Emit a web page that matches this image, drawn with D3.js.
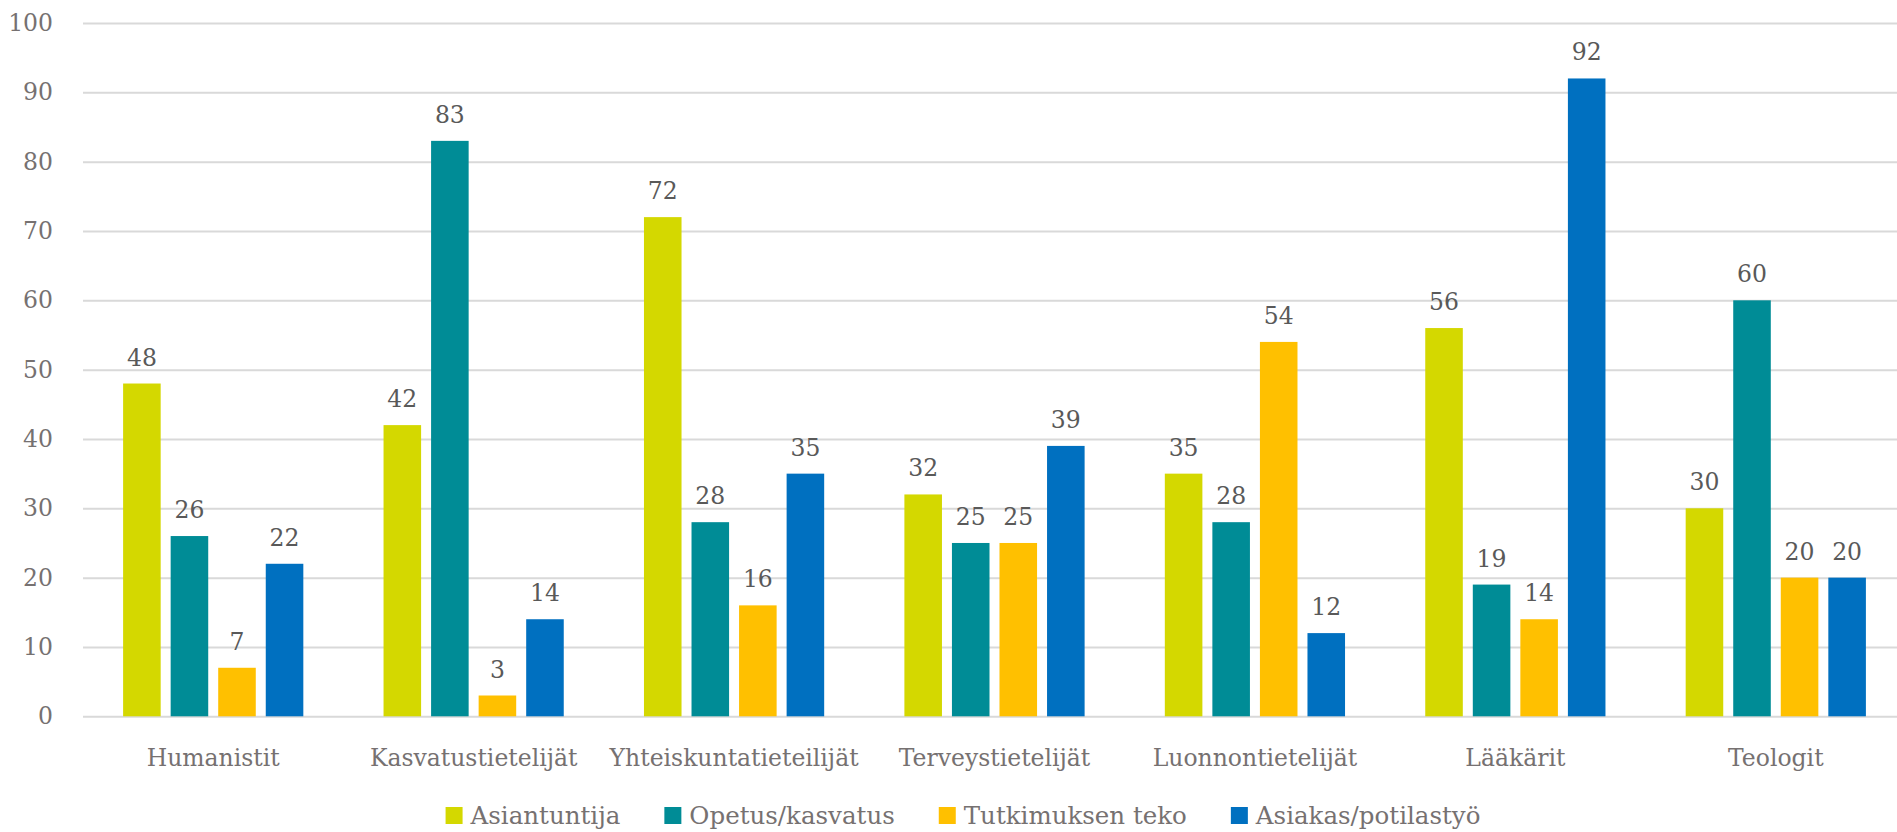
<!DOCTYPE html>
<html>
<head>
<meta charset="utf-8">
<script src="https://cdn.jsdelivr.net/npm/d3@7"></script>
<style>
  body { margin: 0; background: #fff; }
  svg { display: block; }
  .lbl { font-family: "DejaVu Serif", serif; }
</style>
</head>
<body>
<div id="chart"></div>
<script>
// chart data
let categories = ["Humanistit", "Kasvatustietelijät", "Yhteiskuntatieteilijät", "Terveystietelijät",
    "Luonnontietelijät", "Lääkärit", "Teologit"];
let seriesNames = ["Asiantuntija", "Opetus/kasvatus", "Tutkimuksen teko", "Asiakas/potilastyö"];
let asiantuntija = [48, 42, 72, 32, 35, 56, 30];
let opetus = [26, 83, 28, 25, 28, 19, 60];
let tutkimus = [7, 3, 16, 25, 54, 14, 20];
let asiakas = [22, 14, 35, 39, 12, 92, 20];
let yTicks = [0, 10, 20, 30, 40, 50, 60, 70, 80, 90, 100];
let colors = ["#D4D800", "#008C96", "#FFC000", "#0070C0"];

let width = 1897, height = 832;
let plotLeft = 83, plotRight = 1906, plotTop = 23, plotBottom = 716.3;
let fontSize = 23.5;

let svg = d3.select("#chart")
    .append("svg")
    .attr("width", width)
    .attr("height", height);

let allSeries = [asiantuntija, opetus, tutkimus, asiakas];

let x0 = d3.scaleBand()
    .domain(categories)
    .range([plotLeft, plotRight])
    .paddingInner(0.308)
    .paddingOuter(0.154);

let x1 = d3.scaleBand()
    .domain(seriesNames)
    .range([0, x0.bandwidth()])
    .paddingInner(0.21);

let y = d3.scaleLinear().domain([0, 100]).range([plotBottom, plotTop]);

// gridlines + y labels
let yAxis = svg.append("g")
    .attr("transform", "translate(" + plotLeft + ",0)")
    .call(d3.axisLeft(y).tickValues(yTicks).tickSize(-(width - plotLeft)).tickPadding(30));
yAxis.select(".domain").remove();
yAxis.selectAll(".tick line").attr("stroke", "#D9D9D9").attr("stroke-width", 2);
yAxis.selectAll(".tick text")
    .attr("class", "lbl")
    .attr("font-size", fontSize)
    .attr("fill", "#767171");

// x labels
let xAxis = svg.append("g")
    .attr("transform", "translate(0," + plotBottom + ")")
    .call(d3.axisBottom(x0).tickSize(0));
xAxis.select(".domain").remove();
xAxis.selectAll(".tick text")
    .attr("class", "lbl")
    .attr("font-size", fontSize)
    .attr("fill", "#767171")
    .attr("y", 50)
    .attr("dy", 0);

// bars
let groups = svg.selectAll(".grp")
    .data(categories)
    .enter()
    .append("g")
    .attr("class", "grp")
    .attr("transform", function(d) { return "translate(" + x0(d) + ",0)"; });

groups.each(function(cat, ci) {
    let g = d3.select(this);
    let rows = seriesNames.map(function(s, si) { return {name: s, value: allSeries[si][ci], color: colors[si]}; });
    g.selectAll("rect")
        .data(rows)
        .enter()
        .append("rect")
        .attr("x", function(d) { return x1(d.name); })
        .attr("y", function(d) { return y(d.value); })
        .attr("width", x1.bandwidth())
        .attr("height", function(d) { return y(0) - y(d.value); })
        .attr("fill", function(d) { return d.color; });
    g.selectAll("text")
        .data(rows)
        .enter()
        .append("text")
        .attr("class", "lbl")
        .attr("x", function(d) { return x1(d.name) + x1.bandwidth() / 2; })
        .attr("y", function(d) { return y(d.value) - 18; })
        .attr("text-anchor", "middle")
        .attr("font-size", fontSize)
        .attr("fill", "#595959")
        .text(function(d) { return d.value; });
});

// legend
let legend = svg.append("g");
let items = legend.selectAll("g")
    .data(seriesNames)
    .enter()
    .append("g");
items.append("rect")
    .attr("y", 807)
    .attr("width", 17)
    .attr("height", 17)
    .attr("fill", function(d, i) { return colors[i]; });
items.append("text")
    .attr("class", "lbl")
    .attr("x", 25)
    .attr("y", 823.5)
    .attr("font-size", 24.5)
    .attr("fill", "#767171")
    .text(function(d) { return d; });

let widths = [];
items.each(function() { widths.push(25 + d3.select(this).select("text").node().getComputedTextLength()); });
let gap = 44;
let total = d3.sum(widths) + gap * (widths.length - 1);
let cur = 963 - total / 2;
items.attr("transform", function(d, i) {
    let t = "translate(" + cur + ",0)";
    cur += widths[i] + gap;
    return t;
});
</script>
</body>
</html>
